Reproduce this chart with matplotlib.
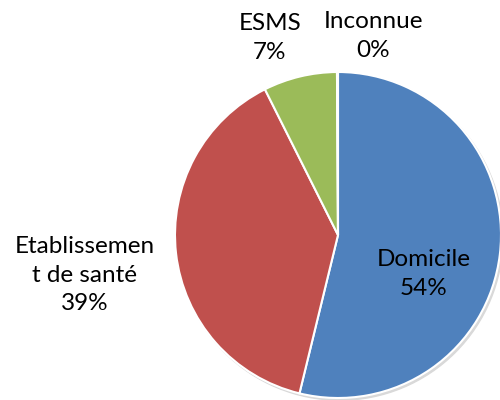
import matplotlib.pyplot as plt
from matplotlib.patches import Circle

categories = ["Domicile", "Etablissemen\nt de santé", "ESMS", "Inconnue"]
values = [53.8, 38.8, 7.3, 0.1]
colors = ["#4F81BD", "#C0504D", "#9BBB59", "#8064A2"]

plt.rcParams['font.family'] = ['Lato', 'DejaVu Sans']

fig = plt.figure(figsize=(5, 4), dpi=100)
ax = fig.add_axes([0, 0, 1, 1])

# pie centre at pixel (338, 235), radius 163 px
r = 163.0
cx, cy = 338.0, 235.0

ax.add_patch(Circle((0.012, -0.014), 1.0, color="#d9d9d9", zorder=0))
ax.pie(values, colors=colors, startangle=90, counterclock=False,
       radius=1.0, center=(0, 0), frame=True,
       wedgeprops=dict(edgecolor="white", linewidth=1.5))
ax.set_xlim(-cx / r, (500 - cx) / r)
ax.set_ylim(-(400 - cy) / r, cy / r)
ax.set_aspect('equal')
ax.axis('off')

# label positions in pixels (x, y from top)
label_pos = [(424, 274), (85, 275), (270, 38), (373, 36)]
total = sum(values)
for name, v, (px, py) in zip(categories, values, label_pos):
    txt = "%s\n%d%%" % (name, round(v / total * 100))
    ax.text((px - cx) / r, (cy - py) / r, txt, ha="center", va="center",
            fontsize=17.5, fontweight="normal", linespacing=1.43, color="black")

fig.savefig("out.png", dpi=100)
